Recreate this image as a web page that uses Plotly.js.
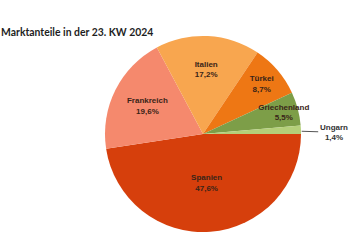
<!DOCTYPE html>
<html><head><meta charset="utf-8">
<script src="https://cdn.plot.ly/plotly-3.0.1.min.js"></script>
<style>html,body{margin:0;padding:0;background:#fff}#c{width:350px;height:250px}</style>
</head><body><div id="c"></div>
<script>
const labels = ['Spanien','Frankreich','Italien','Türkei','Griechenland','Ungarn'];
const values = [47.6, 19.6, 17.2, 8.7, 5.5, 1.4];
const colors = ['#D63F0C','#F5896D','#F8A64F','#EE7714','#7D9E48','#B4CF79'];
const positions = ['inside','inside','inside','inside','inside','none'];

const fmt = v => v.toFixed(1).replace('.', ',') + '%';
const last = labels.length - 1;

Plotly.newPlot('c', [{
  type: 'pie',
  labels: labels,
  values: values,
  sort: false,
  direction: 'clockwise',
  rotation: 90,
  marker: {colors: colors, line: {width: 0}},
  textposition: positions,
  texttemplate: '<b>%{label}</b><br><b>%{percent:.1%}</b>',
  insidetextorientation: 'horizontal',
  textfont: {family: 'Liberation Sans, Arial, sans-serif', size: 8, color: '#3a2418'},
  automargin: false,
  showlegend: false,
  hoverinfo: 'none',
  domain: {x: [0.3, 0.86], y: [0.072, 0.856]}
}], {
  width: 350, height: 250,
  margin: {l: 0, r: 0, t: 0, b: 0},
  separators: ',.',
  paper_bgcolor: '#fff',
  title: {text: '<b>Marktanteile in der 23. KW 2024</b>', x: 0.003, xanchor: 'left', y: 0.872, yanchor: 'middle',
          font: {family: 'Lato, sans-serif', size: 10.4, color: '#1e1e1e'}},
  annotations: [{
    xref: 'paper', yref: 'paper', x: 0.862, y: 0.475,
    text: '<b>' + labels[last] + '<br>' + fmt(values[last]) + '</b>',
    showarrow: true, arrowhead: 0, arrowwidth: 1, arrowcolor: '#555',
    ax: 32, ay: 1, standoff: 0,
    font: {family: 'Liberation Sans, Arial, sans-serif', size: 8, color: '#333'}
  }],
  uniformtext: {minsize: 8, mode: 'show'}
}, {staticPlot: true});
</script></body></html>
